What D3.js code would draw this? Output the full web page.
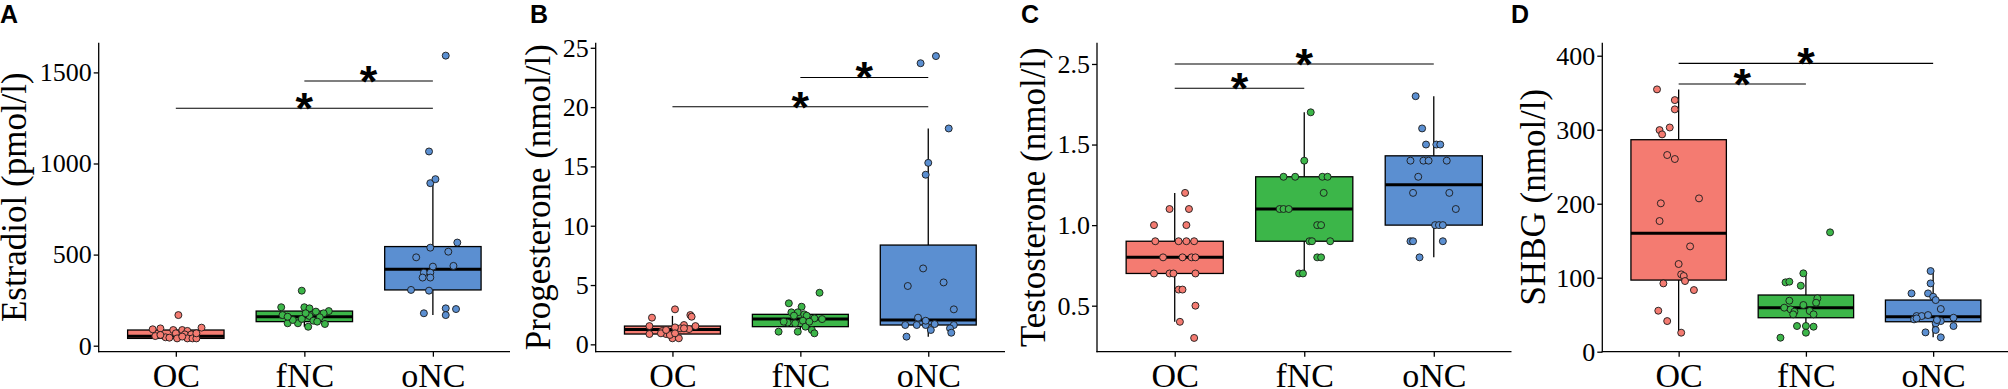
<!DOCTYPE html>
<html>
<head>
<meta charset="utf-8">
<script src="https://cdn.jsdelivr.net/npm/d3@7"></script>
<style>
  html, body { margin: 0; padding: 0; background: #fff; }
  svg { display: block; }
</style>
</head>
<body>
<svg id="chart" width="2008" height="389"></svg>
<script>
// ---------------- DATA ----------------
const categories = ["OC", "fNC", "oNC"];
const panelLetters = ["A", "B", "C", "D"];
const yTitles = ["Estradiol (pmol/l)", "Progesterone (nmol/l)", "Testosterone (nmol/l)", "SHBG (nmol/l)"];

// tick values and labels
const estradiolTicks = [0, 500, 1000, 1500];
const estradiolTickLabels = ["0", "500", "1000", "1500"];
const progesteroneTicks = [0, 5, 10, 15, 20, 25];
const progesteroneTickLabels = ["0", "5", "10", "15", "20", "25"];
const testosteroneTicks = [0.5, 1.0, 1.5, 2.0];
const testosteroneTickLabels = ["0.5", "1.0", "1.5", "2.5"];
const shbgTicks = [0, 100, 200, 300, 400];
const shbgTickLabels = ["0", "100", "200", "300", "400"];

// box statistics per group: [lower whisker, Q1, median, Q3, upper whisker]
const estradiolBox = [[40, 40, 52, 86, 99], [104, 132, 159, 190, 211], [168, 306, 419, 544, 901]];
const progesteroneBox = [[0.51, 0.87, 1.26, 1.54, 2.4], [0.93, 1.49, 2.13, 2.53, 3.46], [0.65, 1.63, 2.05, 8.37, 18.2]];
const testosteroneBox = [[0.4, 0.7, 0.8, 0.9, 1.2], [0.7, 0.9, 1.1, 1.3, 1.7], [0.8, 1.0, 1.25, 1.43, 1.8]];
const shbgBox = [[25.7, 96.8, 160, 286.5, 354.5], [24.8, 45.9, 59.5, 76.6, 106.8], [19.4, 40.5, 47.3, 69.8, 109]];

// individual observations
const estradiolOC = [168, 90, 95, 99, 86, 86, 81, 53, 46, 44, 68, 62, 62, 40, 40, 40, 40, 59, 68, 50];
const estradiolFNC = [302, 211, 211, 205, 187, 190, 178, 168, 163, 156, 123, 123, 104, 119, 141, 147, 137, 178, 159, 132];
const estradiolONC = [1592, 1066, 892, 914, 566, 538, 516, 485, 434, 438, 401, 401, 374, 374, 306, 302, 178, 205, 201, 168];
const progesteroneOC = [2.95, 2.25, 2.47, 2.33, 1.54, 1.54, 1.63, 1.35, 1.43, 1.29, 0.87, 1.12, 0.87, 0.51, 0.51, 0.93, 0.79, 1.35, 0.93, 1.21];
const progesteroneFNC = [4.35, 3.46, 3.17, 2.70, 2.70, 2.53, 2.42, 2.42, 2.19, 2.13, 1.83, 1.99, 1.77, 1.07, 1.07, 1.21, 0.93, 1.49, 1.91, 1.91];
const progesteroneONC = [24.3, 23.7, 18.2, 15.3, 14.3, 6.4, 4.92, 5.22, 2.95, 2.25, 1.63, 1.63, 1.63, 1.71, 1.63, 1.21, 1.35, 0.98, 0.65, 1.99];
const testosteroneOC = [1.2, 1.1, 1.1, 1.0, 1.0, 0.9, 0.9, 0.9, 0.9, 0.8, 0.8, 0.8, 0.8, 0.7, 0.7, 0.7, 0.7, 0.6, 0.6, 0.5, 0.4, 0.3];
const testosteroneFNC = [1.7, 1.4, 1.3, 1.3, 1.3, 1.3, 1.2, 1.1, 1.1, 1.1, 1.0, 1.0, 0.9, 0.9, 0.9, 0.8, 0.8, 0.7, 0.7];
const testosteroneONC = [1.8, 1.6, 1.5, 1.5, 1.5, 1.4, 1.4, 1.4, 1.4, 1.3, 1.2, 1.2, 1.1, 1.0, 1.0, 1.0, 0.9, 0.9, 0.9, 0.8];
const shbgOC = [354.5, 340, 327.5, 299.5, 303, 293.7, 265.8, 260.4, 200.5, 207.2, 176.6, 142.3, 118.5, 104.5, 102.3, 95.5, 92.3, 83.3, 55.4, 41.4, 25.7];
const shbgFNC = [161.3, 105.9, 93.7, 94.6, 89.2, 68.9, 72.1, 66.2, 63.1, 59.5, 57.2, 54.1, 55, 50.5, 50.5, 34.7, 34.7, 33.8, 25.7, 18.9];
const shbgONC = [109, 92.3, 78.8, 78.8, 74.3, 69.8, 57.7, 48.2, 48.2, 49.5, 43.7, 45.9, 41.4, 38.3, 45, 34.7, 29.3, 26.1, 19.4, 42.8];

const estradiolJitterOC = [0.02, -0.18, -0.12, 0.2, -0.02, 0.05, 0.09, -0.16, -0.08, -0.05, 0, 0.07, 0.12, 0.09, 0.13, 0.16, 0.01, -0.12, 0.16, 0.05];
const estradiolJitterFNC = [-0.02, -0.18, 0, 0.04, 0.09, 0.19, 0.15, -0.17, 0.04, 0.12, -0.13, -0.05, 0.03, 0.16, -0.09, -0.02, 0.07, 0.01, -0.13, 0.1];
const estradiolJitterONC = [0.1, -0.03, -0.02, 0.02, 0.19, -0.02, 0.12, -0.13, 0, 0.16, -0.07, -0.02, -0.08, -0.02, -0.17, -0.03, -0.07, 0.1, 0.18, 0.1];
const progesteroneJitterOC = [0.02, -0.16, 0.14, 0.15, -0.18, 0.18, 0.09, 0.06, 0.02, 0.13, -0.18, -0.08, -0.05, 0, 0.05, -0.09, -0.02, 0.09, 0.02, -0.05];
const progesteroneJitterFNC = [0.15, -0.09, 0.01, -0.07, -0.02, 0.03, -0.05, 0.05, 0.11, 0.17, -0.1, 0.02, -0.04, -0.17, -0.02, 0.09, 0.11, 0.04, -0.13, 0.07];
const progesteroneJitterONC = [0.06, -0.06, 0.16, 0, -0.02, -0.04, -0.16, 0.12, 0.2, -0.08, -0.18, -0.09, -0.02, 0.05, 0.2, 0.02, 0.17, 0.18, -0.17, -0.02];
const testosteroneJitterOC = [0.08, -0.04, 0.11, -0.16, 0.09, -0.15, 0.03, 0.09, 0.15, -0.09, 0.06, 0.13, 0.16, -0.16, -0.04, -0.01, 0.16, 0.03, 0.06, 0.16, 0.04, 0.15];
const testosteroneJitterFNC = [0.05, 0, -0.16, -0.07, 0.14, 0.18, 0.15, -0.19, -0.16, -0.12, 0.1, 0.13, 0.04, 0.06, 0.2, 0.1, 0.13, -0.04, -0.01];
const testosteroneJitterONC = [-0.14, -0.09, -0.06, 0.02, 0.05, -0.18, -0.08, -0.04, 0.1, -0.12, -0.16, 0.12, 0.17, 0.01, 0.04, 0.07, -0.18, -0.16, 0.07, -0.11];
const shbgJitterOC = [-0.17, -0.03, -0.03, -0.15, -0.07, -0.13, -0.09, -0.03, -0.14, 0.16, -0.15, 0.09, 0, 0.02, 0.04, 0.05, -0.12, 0.12, -0.16, -0.09, 0.02];
const shbgJitterFNC = [0.19, -0.02, -0.16, -0.13, -0.04, -0.13, 0.09, 0.08, -0.02, -0.17, -0.12, -0.09, 0.03, 0.06, -0.1, -0.07, 0, 0.06, 0, -0.2];
const shbgJitterONC = [-0.02, -0.02, -0.17, -0.04, 0, 0.02, 0.06, -0.13, -0.09, -0.04, -0.15, 0.16, 0.06, 0.02, -0.13, 0.16, 0.02, -0.06, 0.06, 0.03];

// significance brackets: [from, to, y value]
const estradiolSig = [["OC", "oNC", 1303], ["fNC", "oNC", 1453]];
const progesteroneSig = [["OC", "oNC", 20.03], ["fNC", "oNC", 22.5]];
const testosteroneSig = [["OC", "oNC", 2.0], ["OC", "fNC", 1.849]];
const shbgSig = [["OC", "oNC", 389.7], ["OC", "fNC", 361.7]];

// ---------------- LAYOUT / STYLE ----------------
const groupColors = ["#F47B71", "#3CB649", "#5B8FD1"];
const serif = "'Liberation Serif', 'Times New Roman', serif";
const sans = "'Liberation Sans', Arial, sans-serif";
const yTop = 42.7, yBottom = 351.7;

const panels = [
  { x0: 98.7, x1: 510, domain: [-33, 1663], titleX: 26, letterX: 0,
    ticks: estradiolTicks, labels: estradiolTickLabels, box: estradiolBox,
    values: [estradiolOC, estradiolFNC, estradiolONC],
    jitter: [estradiolJitterOC, estradiolJitterFNC, estradiolJitterONC], sig: estradiolSig },
  { x0: 595.7, x1: 1005, domain: [-0.62, 25.43], titleX: 550, letterX: 530,
    ticks: progesteroneTicks, labels: progesteroneTickLabels, box: progesteroneBox,
    values: [progesteroneOC, progesteroneFNC, progesteroneONC],
    jitter: [progesteroneJitterOC, progesteroneJitterFNC, progesteroneJitterONC], sig: progesteroneSig },
  { x0: 1097, x1: 1511.5, domain: [0.2145, 2.132], titleX: 1045, letterX: 1021,
    ticks: testosteroneTicks, labels: testosteroneTickLabels, box: testosteroneBox,
    values: [testosteroneOC, testosteroneFNC, testosteroneONC],
    jitter: [testosteroneJitterOC, testosteroneJitterFNC, testosteroneJitterONC], sig: testosteroneSig },
  { x0: 1602.3, x1: 2009.5, domain: [0, 417.6], titleX: 1545, letterX: 1511,
    ticks: shbgTicks, labels: shbgTickLabels, box: shbgBox,
    values: [shbgOC, shbgFNC, shbgONC],
    jitter: [shbgJitterOC, shbgJitterFNC, shbgJitterONC], sig: shbgSig }
];

const svg = d3.select("#chart");

panels.forEach((p, pi) => {
  const g = svg.append("g");
  const x = d3.scalePoint().domain(categories).range([p.x0, p.x1]).padding(0.6);
  const y = d3.scaleLinear().domain(p.domain).range([yBottom, yTop]);
  const step = x.step();
  const bw = step * 0.75;

  // boxes
  categories.forEach((c, ci) => {
    const [lo, q1, med, q3, hi] = p.box[ci];
    const cx = x(c);
    const bg = g.append("g");
    bg.append("line").attr("x1", cx).attr("x2", cx).attr("y1", y(hi)).attr("y2", y(q3))
      .attr("stroke", "#000").attr("stroke-width", 1.3);
    bg.append("line").attr("x1", cx).attr("x2", cx).attr("y1", y(q1)).attr("y2", y(lo))
      .attr("stroke", "#000").attr("stroke-width", 1.3);
    bg.append("rect").attr("x", cx - bw / 2).attr("width", bw)
      .attr("y", y(q3)).attr("height", Math.max(0.5, y(q1) - y(q3)))
      .attr("fill", groupColors[ci]).attr("stroke", "#000").attr("stroke-width", 1.3);
    bg.append("line").attr("x1", cx - bw / 2).attr("x2", cx + bw / 2).attr("y1", y(med)).attr("y2", y(med))
      .attr("stroke", "#000").attr("stroke-width", 3);
  });

  // points
  categories.forEach((c, ci) => {
    const vals = p.values[ci];
    const jit = p.jitter[ci];
    g.append("g").selectAll("circle").data(vals).join("circle")
      .attr("cx", (d, i) => x(c) + jit[i] * step)
      .attr("cy", d => y(d))
      .attr("r", 3.5)
      .attr("fill", groupColors[ci])
      .attr("stroke", "#1a1a1a").attr("stroke-width", 0.9);
  });

  // significance brackets
  p.sig.forEach(s => {
    const xa = x(s[0]), xb = x(s[1]), yy = y(s[2]);
    g.append("line").attr("x1", xa).attr("x2", xb).attr("y1", yy).attr("y2", yy)
      .attr("stroke", "#000").attr("stroke-width", 1.1);
    g.append("text").attr("x", (xa + xb) / 2).attr("y", yy + 16)
      .attr("text-anchor", "middle").attr("font-family", sans).attr("font-weight", "bold")
      .attr("font-size", 45).attr("fill", "#000").text("*");
  });

  // y axis
  const yAxis = d3.axisLeft(y).tickValues(p.ticks).tickSize(5).tickSizeOuter(0).tickPadding(2)
    .tickFormat((d, i) => p.labels[i]);
  const ya = g.append("g").attr("transform", `translate(${p.x0},0)`).call(yAxis);
  ya.select(".domain").remove();
  ya.append("line").attr("x1", 0).attr("x2", 0).attr("y1", yTop).attr("y2", yBottom + 0.6)
    .attr("stroke", "#000").attr("stroke-width", 1.3);
  ya.selectAll(".tick line").attr("stroke", "#000").attr("stroke-width", 1.3);
  ya.selectAll(".tick text").attr("font-family", serif).attr("font-size", 26).attr("fill", "#000");

  // x axis
  const xAxis = d3.axisBottom(x).tickSize(5).tickSizeOuter(0).tickPadding(6);
  const xa = g.append("g").attr("transform", `translate(0,${yBottom})`).call(xAxis);
  xa.select(".domain").remove();
  xa.append("line").attr("x1", p.x0 - 0.6).attr("x2", p.x1).attr("y1", 0).attr("y2", 0)
    .attr("stroke", "#000").attr("stroke-width", 1.3);
  xa.selectAll(".tick line").attr("stroke", "#000").attr("stroke-width", 1.3);
  xa.selectAll(".tick text").attr("font-family", serif).attr("font-size", 34).attr("fill", "#000");

  // y title
  g.append("text").attr("transform", `translate(${p.titleX},${(yTop + yBottom) / 2}) rotate(-90)`)
    .attr("text-anchor", "middle").attr("font-family", serif).attr("font-size", 35)
    .attr("fill", "#000").text(yTitles[pi]);

  // panel letter
  g.append("text").attr("x", p.letterX).attr("y", 23.3)
    .attr("font-family", sans).attr("font-weight", "bold").attr("font-size", 25)
    .attr("fill", "#000").text(panelLetters[pi]);
});
</script>
</body>
</html>
